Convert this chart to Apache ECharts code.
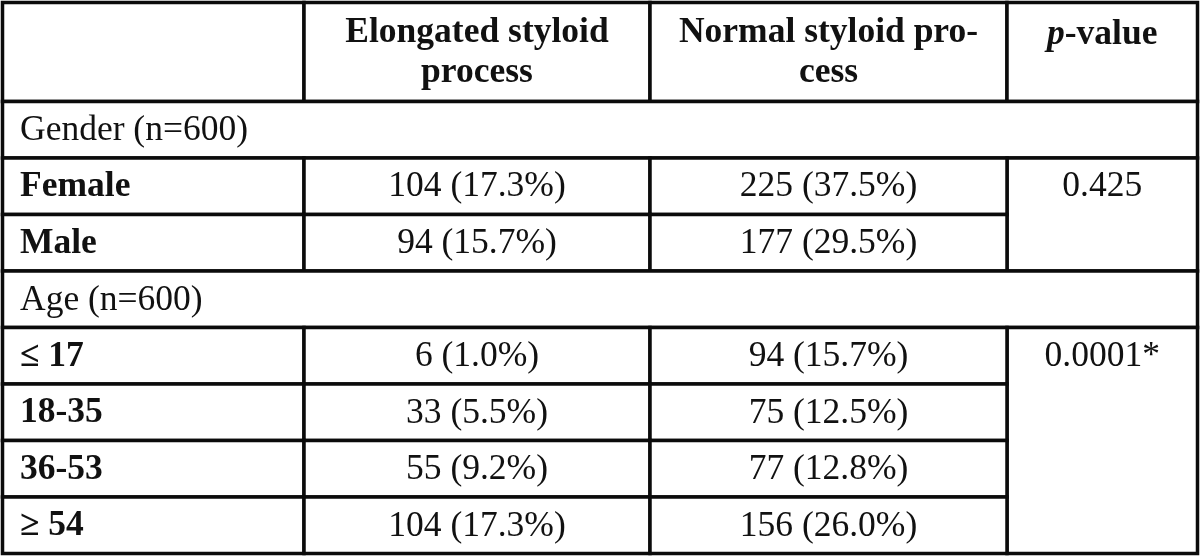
<!DOCTYPE html>
<html>
<head>
<meta charset="utf-8">
<script src="https://cdn.jsdelivr.net/npm/echarts@6/dist/echarts.min.js"></script>
<style>
html,body{margin:0;padding:0;background:#fff;}
#chart{width:1200px;height:556px;}
</style>
</head>
<body>
<div id="chart"></div>
<script>
// ---- data ----
var headers = ['', 'Elongated styloid\nprocess', 'Normal styloid pro-\ncess', 'p-value'];
var groupLabels = ['Gender (n=600)', 'Age (n=600)'];
var genderCategories = ['Female', 'Male'];
var ageCategories = ['\u2264 17', '18-35', '36-53', '\u2265 54'];
var elongatedCounts = [104, 94, 6, 33, 55, 104];
var elongatedPct = [17.3, 15.7, 1.0, 5.5, 9.2, 17.3];
var normalCounts = [225, 177, 94, 75, 77, 156];
var normalPct = [37.5, 29.5, 15.7, 12.5, 12.8, 26.0];
var pValues = ['0.425', '0.0001*'];

// ---- layout (not data) ----
var colEdges = [0, 301.5, 647.5, 1004.5, 1195];
var headerH = 1.75;
var FONT = "'Liberation Serif', 'DejaVu Serif', serif";
var FS = 35.5;
var INK = '#111';
var DY = 1;

function fmt(n, p) { return n + ' (' + p.toFixed(1) + '%)'; }

var cells = [];
function addCell(c0, c1, r0, r1, text, kind) {
  cells.push({ x0: colEdges[c0], x1: colEdges[c1], y0: r0, y1: r1, text: text, kind: kind });
}
for (var h = 0; h < 4; h++) addCell(h, h + 1, 0, headerH, headers[h], h === 3 ? 'pheader' : 'header');

var row = headerH;
var dataIdx = 0;
var groups = [genderCategories, ageCategories];
for (var g = 0; g < groups.length; g++) {
  addCell(0, 4, row, row + 1, groupLabels[g], 'group');
  row += 1;
  var cats = groups[g];
  addCell(3, 4, row, row + cats.length, pValues[g], 'pval');
  for (var k = 0; k < cats.length; k++) {
    addCell(0, 1, row, row + 1, cats[k], 'label');
    addCell(1, 2, row, row + 1, fmt(elongatedCounts[dataIdx], elongatedPct[dataIdx]), 'num');
    addCell(2, 3, row, row + 1, fmt(normalCounts[dataIdx], normalPct[dataIdx]), 'num');
    dataIdx++;
    row += 1;
  }
}
var totalRows = row;

var seriesData = cells.map(function (c, i) { return [c.x0, c.x1, c.y0, c.y1, i]; });

function renderItem(params, api) {
  var c = cells[api.value(4)];
  var p0 = api.coord([api.value(0), api.value(2)]);
  var p1 = api.coord([api.value(1), api.value(3)]);
  var x0 = p0[0], y0 = p0[1], x1 = p1[0], y1 = p1[1];
  var rowPx = api.size([0, 1])[1];
  var children = [{
    type: 'rect',
    shape: { x: x0, y: y0, width: x1 - x0, height: y1 - y0 },
    style: { fill: '#fff', stroke: '#0b0b0b', lineWidth: 3.5 }
  }];
  var ts = { fill: INK, fontFamily: FONT, fontSize: FS, textVerticalAlign: 'middle' };
  var t = null;
  if (c.kind === 'header') {
    if (c.text) t = { x: (x0 + x1) / 2, y: (y0 + y1) / 2 + 1, text: c.text, textAlign: 'center', fontWeight: 'bold', lineHeight: 40 };
  } else if (c.kind === 'pheader') {
    t = { x: (x0 + x1) / 2, y: y0 + 32, text: '{i|p}{b|-value}', textAlign: 'center',
      rich: { i: { fontStyle: 'italic', fontWeight: 'bold', fontFamily: FONT, fontSize: FS, fill: INK },
              b: { fontWeight: 'bold', fontFamily: FONT, fontSize: FS, fill: INK } } };
  } else if (c.kind === 'group') {
    t = { x: x0 + 17.5, y: (y0 + y1) / 2 + DY, text: c.text, textAlign: 'left' };
  } else if (c.kind === 'label') {
    t = { x: x0 + 17.5, y: (y0 + y1) / 2 + DY, text: c.text, textAlign: 'left', fontWeight: 'bold' };
  } else if (c.kind === 'num') {
    t = { x: (x0 + x1) / 2, y: (y0 + y1) / 2 + DY, text: c.text, textAlign: 'center' };
  } else if (c.kind === 'pval') {
    t = { x: (x0 + x1) / 2, y: y0 + rowPx / 2 + DY, text: c.text, textAlign: 'center' };
  }
  if (t) {
    var st = Object.assign({}, ts, t);
    delete st.x; delete st.y;
    children.push({ type: 'text', x: t.x, y: t.y, style: st });
  }
  return { type: 'group', children: children };
}

var chart = echarts.init(document.getElementById('chart'), null, { renderer: 'canvas' });
chart.setOption({
  animation: false,
  backgroundColor: '#fff',
  grid: { left: 2.5, right: 2.5, top: 2.5, bottom: 2.5 },
  xAxis: { type: 'value', min: 0, max: colEdges[colEdges.length - 1], show: false },
  yAxis: { type: 'value', min: 0, max: totalRows, inverse: true, show: false },
  series: [{
    type: 'custom',
    renderItem: renderItem,
    data: seriesData,
    encode: { x: [0, 1], y: [2, 3] },
    silent: true,
    clip: false
  }]
});
</script>
</body>
</html>
